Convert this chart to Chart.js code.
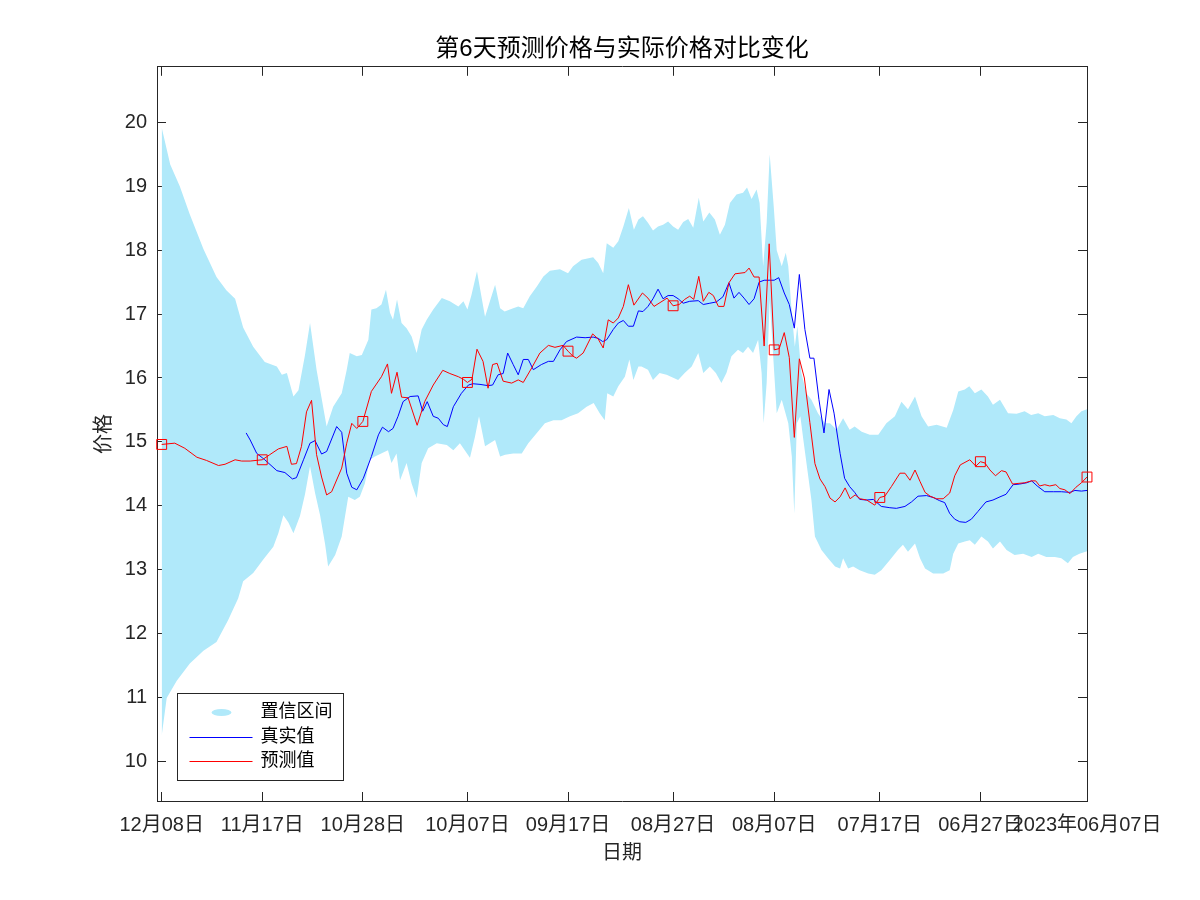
<!DOCTYPE html>
<html>
<head>
<meta charset="utf-8">
<script src="https://cdn.jsdelivr.net/npm/chart.js@4.4.0/dist/chart.umd.min.js"></script>
<style>
  html, body { margin: 0; padding: 0; background: #ffffff; }
</style>
</head>
<body>
<canvas id="priceChart" width="1200" height="900"></canvas>
<script>
// 横轴刻度（左 12月08日 → 右 2023年06月07日，按样本序号）
const xTickLabels = ['12月08日', '11月17日', '10月28日', '10月07日', '09月17日', '08月27日', '08月07日', '07月17日', '06月27日', '2023年06月07日'];
const xTickPos = [0, 20, 40, 60.8, 80.8, 101.7, 121.8, 142.8, 162.8, 184];
const yTicks = [10, 11, 12, 13, 14, 15, 16, 17, 18, 19, 20];

// 预测值
const predX = [
    0, 2.6, 4.6, 7.0, 8.9, 11.3, 12.6, 14.6, 15.9, 17.6,
    20, 21.5, 23.2, 24.9, 25.8, 26.8, 27.8, 28.8, 29.8, 30.8,
    31.8, 32.8, 33.8, 35.8, 36.8, 37.8, 38.8, 40, 41.7, 43.7,
    44.9, 45.7, 46.8, 47.7, 49.0, 50.8, 52.3, 54.0, 55.9, 57.3,
    59.0, 60.0, 60.8, 61.7, 62.7, 63.9, 64.9, 65.8, 66.7, 67.9,
    69.6, 70.9, 71.9, 73.6, 75.2, 76.9, 78.2, 79.8, 80.8, 81.8,
    82.5, 83.8, 85.7, 86.8, 87.8, 88.8, 89.8, 90.8, 91.8, 92.8,
    93.9, 95.6, 96.7, 97.9, 99.1, 100.5, 101.7, 102.9, 104.0, 105.0,
    105.8, 106.8, 107.7, 108.8, 109.7, 110.7, 111.8, 112.8, 114.0, 115.0,
    116.0, 116.8, 117.8, 118.8, 119.8, 120.8, 121.8, 122.8, 123.8, 124.8,
    125.8, 126.8, 127.8, 128.9, 129.9, 130.9, 131.9, 132.9, 133.9, 134.9,
    135.9, 136.9, 137.9, 138.9, 140.2, 141.8, 142.8, 143.8, 145.1, 146.8,
    147.8, 148.8, 149.8, 150.8, 151.8, 152.8, 154.1, 155.4, 156.7, 157.7,
    158.8, 160.7, 161.9, 162.8, 163.7, 164.7, 165.8, 167.0, 167.9, 169.2,
    170.3, 171.6, 173.0, 173.8, 174.6, 175.6, 176.6, 177.8, 178.6, 179.6,
    180.6, 181.8, 182.9, 184
];
const predY = [
    14.96, 14.98, 14.90, 14.76, 14.71, 14.63, 14.65, 14.72, 14.70, 14.70,
    14.72, 14.80, 14.89, 14.93, 14.65, 14.66, 14.93, 15.47, 15.65, 14.80,
    14.45, 14.17, 14.22, 14.59, 14.98, 15.29, 15.21, 15.32, 15.79, 16.02,
    16.22, 15.76, 16.09, 15.70, 15.69, 15.26, 15.63, 15.89, 16.12, 16.07,
    16.02, 15.98, 15.93, 15.98, 16.45, 16.26, 15.84, 16.21, 16.23, 15.95,
    15.92, 15.97, 15.93, 16.16, 16.39, 16.51, 16.48, 16.51, 16.42, 16.34,
    16.31, 16.39, 16.69, 16.61, 16.47, 16.91, 16.86, 16.94, 17.12, 17.46,
    17.14, 17.33, 17.25, 17.12, 17.18, 17.25, 17.13, 17.15, 17.23, 17.28,
    17.23, 17.59, 17.20, 17.34, 17.29, 17.12, 17.12, 17.49, 17.63, 17.64,
    17.65, 17.72, 17.58, 17.58, 16.50, 18.10, 16.44, 16.46, 16.71, 16.32,
    15.07, 16.30, 16.00, 15.30, 14.66, 14.42, 14.30, 14.12, 14.06, 14.14,
    14.28, 14.11, 14.17, 14.11, 14.09, 14.01, 14.13, 14.15, 14.30, 14.51,
    14.51, 14.40, 14.56, 14.38, 14.21, 14.15, 14.11, 14.11, 14.20, 14.47,
    14.64, 14.72, 14.62, 14.69, 14.67, 14.56, 14.47, 14.55, 14.53, 14.34,
    14.35, 14.36, 14.39, 14.39, 14.31, 14.33, 14.31, 14.33, 14.27, 14.25,
    14.19, 14.29, 14.36, 14.45
];
// 预测值上的方块标记
const markerX = [0, 20, 40, 60.8, 80.8, 101.7, 121.8, 142.8, 162.8, 184];

// 真实值
const realX = [
    16.8, 17.6, 18.9, 20.5, 22.9, 24.5, 26.0, 26.8, 28.2, 29.5,
    30.5, 31.8, 32.8, 34.8, 35.8, 36.8, 37.8, 38.8, 40.1, 41.7,
    43.1, 43.9, 45.1, 46.0, 47.0, 48.0, 49.4, 51.0, 51.9, 52.8,
    54.0, 55.0, 56.0, 56.8, 58.0, 59.6, 61.0, 61.9, 63.3, 64.9,
    65.8, 66.9, 67.9, 68.8, 69.9, 70.9, 71.9, 72.9, 73.9, 75.5,
    76.9, 77.9, 79.2, 80.5, 82.5, 84.2, 85.8, 86.8, 87.7, 88.5,
    89.8, 90.8, 91.8, 92.8, 93.8, 94.8, 95.7, 96.7, 97.7, 98.7,
    99.7, 100.7, 101.7, 102.7, 103.7, 105.0, 106.7, 107.7, 109.0, 110.3,
    111.6, 112.8, 113.8, 114.8, 115.8, 116.8, 117.8, 118.8, 119.8, 120.8,
    121.8, 122.7, 123.8, 124.8, 125.8, 126.8, 127.9, 128.9, 129.7, 130.7,
    131.7, 132.7, 133.7, 134.9, 135.8, 136.8, 137.8, 138.8, 140.2, 141.5,
    143.1, 144.8, 146.1, 147.8, 149.1, 150.4, 152.1, 153.4, 154.7, 155.7,
    156.7, 157.7, 158.7, 159.9, 161.0, 162.3, 163.9, 165.3, 166.7, 167.9,
    169.3, 170.6, 172.0, 173.0, 174.1, 175.6, 177.3, 178.9, 180.6, 181.6,
    182.9, 184
];
const realY = [
    15.14, 15.03, 14.82, 14.72, 14.55, 14.52, 14.42, 14.44, 14.72, 14.98,
    15.02, 14.81, 14.85, 15.24, 15.15, 14.51, 14.29, 14.25, 14.43, 14.77,
    15.11, 15.23, 15.16, 15.21, 15.40, 15.63, 15.71, 15.72, 15.48, 15.63,
    15.40, 15.37, 15.27, 15.24, 15.55, 15.76, 15.89, 15.91, 15.90, 15.88,
    15.89, 16.05, 16.07, 16.39, 16.21, 16.05, 16.29, 16.29, 16.13, 16.21,
    16.26, 16.26, 16.44, 16.57, 16.64, 16.63, 16.64, 16.62, 16.57, 16.60,
    16.76, 16.86, 16.90, 16.81, 16.81, 17.05, 17.04, 17.12, 17.24, 17.39,
    17.24, 17.29, 17.29, 17.24, 17.17, 17.20, 17.21, 17.15, 17.17, 17.19,
    17.27, 17.49, 17.25, 17.34, 17.25, 17.15, 17.24, 17.50, 17.53, 17.53,
    17.53, 17.57, 17.33, 17.15, 16.78, 17.62, 16.76, 16.31, 16.31, 15.66,
    15.14, 15.82, 15.45, 14.82, 14.43, 14.30, 14.21, 14.10, 14.09, 14.10,
    13.99, 13.97, 13.96, 13.99, 14.06, 14.15, 14.16, 14.13, 14.08, 14.05,
    13.88, 13.79, 13.75, 13.74, 13.79, 13.91, 14.06, 14.09, 14.14, 14.18,
    14.33, 14.34, 14.36, 14.39, 14.31, 14.22, 14.22, 14.22, 14.21, 14.24,
    14.23, 14.24
];

// 置信区间上界
const upperX = [
    0, 1.7, 3.6, 5.6, 8.3, 10.9, 12.9, 14.6, 16.2, 18.2,
    20.5, 22.9, 23.9, 24.9, 26.2, 27.2, 28.5, 29.5, 30.8, 32.8,
    34.1, 35.8, 36.8, 37.4, 38.8, 39.8, 41.1, 41.7, 42.7, 43.7,
    44.6, 45.4, 46.0, 46.8, 47.7, 48.7, 49.7, 50.7, 51.7, 52.7,
    54.0, 55.7, 57.3, 59.0, 60.0, 60.8, 61.6, 62.7, 63.3, 64.3,
    66.3, 67.3, 68.2, 69.9, 70.9, 71.9, 73.2, 74.6, 75.9, 77.2,
    79.2, 80.8, 81.8, 83.5, 85.8, 86.8, 87.8, 88.5, 89.8, 90.8,
    91.8, 92.9, 93.9, 94.8, 95.7, 96.7, 97.7, 98.7, 99.7, 100.7,
    101.7, 102.7, 103.7, 104.7, 105.7, 106.8, 107.7, 108.9, 110.0, 111.0,
    112.0, 113.0, 114.3, 115.6, 116.4, 117.3, 118.3, 118.9, 119.6, 120.3,
    120.9, 121.7, 122.3, 123.3, 124.1, 124.6, 125.3, 125.9, 126.4, 127.2,
    128.2, 129.2, 130.5, 131.9, 132.9, 134.2, 135.5, 136.8, 137.8, 139.2,
    140.8, 142.5, 144.1, 145.8, 147.1, 148.4, 149.8, 151.1, 152.4, 154.1,
    156.1, 157.4, 158.4, 159.7, 160.6, 161.7, 163.0, 164.3, 165.3, 166.7,
    168.3, 170.0, 171.6, 172.9, 174.3, 175.6, 177.3, 178.6, 179.9, 180.9,
    181.9, 182.9, 184
];
const upperY = [
    19.92, 19.34, 19.00, 18.56, 18.02, 17.58, 17.37, 17.24, 16.79, 16.49,
    16.25, 16.18, 16.05, 16.08, 15.71, 15.81, 16.36, 16.86, 16.13, 15.24,
    15.55, 15.76, 16.13, 16.39, 16.34, 16.36, 16.60, 17.07, 17.09, 17.15,
    17.38, 17.02, 16.91, 17.23, 16.86, 16.78, 16.65, 16.39, 16.76, 16.91,
    17.07, 17.25, 17.20, 17.12, 17.20, 17.07, 17.30, 17.67, 17.40, 16.96,
    17.46, 17.09, 17.04, 17.09, 17.12, 17.09, 17.28, 17.43, 17.59, 17.68,
    17.70, 17.64, 17.75, 17.85, 17.89, 17.80, 17.64, 18.11, 18.04, 18.14,
    18.37, 18.66, 18.32, 18.48, 18.53, 18.43, 18.31, 18.37, 18.40, 18.45,
    18.37, 18.32, 18.44, 18.49, 18.35, 18.82, 18.45, 18.59, 18.48, 18.24,
    18.40, 18.74, 18.87, 18.90, 18.98, 18.80, 18.95, 18.74, 17.75, 18.43,
    19.50, 18.69, 18.00, 17.75, 17.96, 17.75, 17.02, 16.49, 16.81, 16.08,
    15.76, 15.66, 15.45, 15.29, 15.29, 15.19, 15.37, 15.19, 15.24, 15.16,
    15.11, 15.11, 15.29, 15.40, 15.63, 15.51, 15.71, 15.40, 15.24, 15.27,
    15.22, 15.50, 15.79, 15.82, 15.87, 15.76, 15.82, 15.71, 15.58, 15.66,
    15.45, 15.44, 15.48, 15.42, 15.45, 15.40, 15.42, 15.37, 15.35, 15.29,
    15.40, 15.48, 15.51
];

// 置信区间下界
const lowerX = [
    0, 1.0, 3.0, 5.6, 8.3, 10.9, 13.2, 15.2, 16.2, 18.2,
    20.2, 22.2, 23.2, 24.2, 25.2, 26.2, 27.5, 28.5, 29.5, 30.5,
    31.5, 32.5, 33.1, 34.5, 35.8, 37.1, 38.4, 39.4, 40.4, 41.4,
    42.4, 45.0, 45.7, 46.7, 47.4, 48.7, 49.7, 50.7, 51.7, 53.0,
    54.7, 56.7, 58.0, 59.3, 61.3, 62.3, 63.1, 64.3, 66.3, 67.3,
    68.3, 69.9, 71.6, 72.9, 74.6, 76.2, 77.9, 79.5, 81.2, 82.8,
    84.5, 85.9, 87.1, 88.1, 88.6, 89.8, 90.8, 92.1, 93.0, 93.8,
    94.8, 95.4, 96.7, 97.7, 99.0, 100.4, 102.7, 104.0, 105.4, 106.7,
    107.7, 109.0, 110.2, 111.3, 112.3, 113.3, 114.6, 115.6, 116.6, 117.6,
    118.6, 119.3, 119.7, 120.3, 120.9, 121.6, 122.3, 123.3, 124.6, 125.3,
    125.8, 126.3, 127.0, 127.6, 129.2, 129.9, 131.2, 132.5, 133.9, 134.9,
    135.5, 136.5, 137.5, 138.8, 140.5, 141.8, 143.1, 144.8, 146.4, 147.4,
    148.4, 149.8, 150.8, 151.8, 153.4, 155.4, 156.7, 157.4, 158.4, 159.7,
    160.7, 161.7, 163.0, 164.3, 165.3, 166.7, 168.0, 169.6, 171.3, 173.0,
    174.3, 175.9, 177.6, 178.9, 180.2, 181.2, 182.5, 184
];
const lowerY = [
    10.40, 10.99, 11.26, 11.53, 11.73, 11.87, 12.21, 12.55, 12.82, 12.95,
    13.16, 13.36, 13.57, 13.85, 13.74, 13.57, 13.84, 14.18, 14.62, 14.20,
    13.85, 13.40, 13.05, 13.23, 13.52, 14.14, 14.09, 14.14, 14.35, 14.72,
    14.77, 14.87, 14.67, 14.82, 14.40, 14.67, 14.35, 14.12, 14.67, 14.90,
    14.98, 14.95, 14.87, 14.98, 14.75, 15.08, 15.40, 14.93, 15.03, 14.77,
    14.80, 14.82, 14.82, 14.98, 15.14, 15.29, 15.34, 15.34, 15.40, 15.45,
    15.55, 15.61, 15.45, 15.34, 15.76, 15.71, 15.87, 16.02, 16.29, 15.97,
    16.18, 16.18, 16.13, 15.97, 16.08, 16.05, 15.97, 16.08, 16.18, 16.39,
    16.08, 16.18, 16.08, 15.92, 16.08, 16.34, 16.44, 16.39, 16.49, 16.39,
    16.60, 16.08, 15.29, 15.92, 17.23, 16.34, 15.45, 15.66, 15.29, 14.77,
    13.88, 15.29, 15.40, 15.03, 14.09, 13.52, 13.31, 13.18, 13.05, 13.02,
    13.18, 13.02, 13.05, 12.99, 12.94, 12.92, 12.99, 13.15, 13.31, 13.39,
    13.28, 13.41, 13.18, 13.02, 12.94, 12.94, 12.99, 13.25, 13.41, 13.44,
    13.46, 13.39, 13.52, 13.44, 13.33, 13.44, 13.31, 13.23, 13.25, 13.20,
    13.25, 13.20, 13.20, 13.18, 13.10, 13.20, 13.25, 13.29
];

const axisColor = '#262626';
const bandColor = 'rgb(176, 233, 250)';
const realColor = '#0000ff';
const predColor = '#ff0000';
Chart.defaults.font.family = "'Liberation Sans', 'Noto Sans CJK SC', sans-serif";
Chart.defaults.color = axisColor;

function toPoints(xs, ys) {
    return xs.map((x, i) => ({ x: x, y: ys[i] }));
}

function isMarker(ctx) {
    return ctx.raw && markerX.some(m => Math.abs(m - ctx.raw.x) < 1e-6);
}

// 坐标框：四边都画内向刻度
function frameAxis(position, min, max, tickValues) {
    const horizontal = position === 'top' || position === 'bottom';
    return {
        type: 'linear',
        position: position,
        min: min,
        max: max,
        z: 1,
        afterBuildTicks: (axis) => { axis.ticks = tickValues.map(v => ({ value: v })); },
        afterFit: (axis) => { if (horizontal) { axis.height = 0; } else { axis.width = 0; } },
        ticks: { display: false },
        grid: { drawOnChartArea: false, tickLength: -9, color: axisColor, tickColor: axisColor, lineWidth: 1 },
        border: { display: true, color: axisColor, width: 1 }
    };
}

// 左下角图例
const boxLegend = {
    id: 'boxLegend',
    afterDraw(chart) {
        const ctx = chart.ctx;
        const area = chart.chartArea;
        const w = 166, h = 87;
        const left = Math.round(area.left + 20) + 0.5;
        const top = Math.round(area.bottom - 21 - h) + 0.5;
        ctx.save();
        ctx.fillStyle = '#ffffff';
        ctx.fillRect(left, top, w, h);
        ctx.strokeStyle = axisColor;
        ctx.lineWidth = 1;
        ctx.strokeRect(left, top, w, h);

        const rows = [top + 19, top + 44, top + 68];
        // 置信区间
        ctx.fillStyle = bandColor;
        ctx.beginPath();
        ctx.ellipse(left + 44, rows[0], 10, 3.5, 0, 0, Math.PI * 2);
        ctx.fill();
        // 真实值、预测值
        [realColor, predColor].forEach((color, i) => {
            ctx.strokeStyle = color;
            ctx.lineWidth = 1;
            ctx.beginPath();
            ctx.moveTo(left + 12, rows[i + 1]);
            ctx.lineTo(left + 75, rows[i + 1]);
            ctx.stroke();
        });

        const labels = chart.data.datasets.filter(ds => ds.inLegend).map(ds => ds.label);
        ctx.fillStyle = '#000000';
        ctx.font = "18px 'Liberation Sans', 'Noto Sans CJK SC', sans-serif";
        ctx.textBaseline = 'middle';
        ctx.textAlign = 'left';
        labels.forEach((text, i) => {
            ctx.fillText(text, left + 83, rows[i]);
        });
        ctx.restore();
    }
};

const ctx = document.getElementById('priceChart').getContext('2d');

const priceChart = new Chart(ctx, {
    type: 'line',
    data: {
        datasets: [{
            label: '置信区间',
            inLegend: true,
            data: toPoints(upperX, upperY),
            borderWidth: 0,
            pointRadius: 0,
            backgroundColor: bandColor,
            fill: false,
            order: 3
        }, {
            label: '置信区间下界',
            data: toPoints(lowerX, lowerY),
            borderWidth: 0,
            pointRadius: 0,
            backgroundColor: bandColor,
            fill: '-1',
            order: 3
        }, {
            label: '真实值',
            inLegend: true,
            data: toPoints(realX, realY),
            borderColor: realColor,
            borderWidth: 1,
            pointRadius: 0,
            fill: false,
            order: 2
        }, {
            label: '预测值',
            inLegend: true,
            data: toPoints(predX, predY),
            borderColor: predColor,
            borderWidth: 1,
            pointStyle: 'rect',
            pointRadius: (c) => isMarker(c) ? 7 : 0,
            pointBorderColor: predColor,
            pointBackgroundColor: 'rgba(0,0,0,0)',
            pointBorderWidth: 1,
            fill: false,
            clip: 10,
            order: 1
        }]
    },
    options: {
        responsive: false,
        animation: false,
        events: [],
        layout: { padding: { left: 0, right: 113, top: 0, bottom: 0 } },
        elements: { line: { tension: 0 } },
        plugins: {
            legend: { display: false },
            tooltip: { enabled: false },
            title: {
                display: true,
                fullSize: false,
                text: '第6天预测价格与实际价格对比变化',
                color: '#000000',
                font: { size: 24, weight: 'normal' },
                padding: { top: 35, bottom: 3 }
            }
        },
        scales: {
            x: {
                type: 'linear',
                position: 'bottom',
                min: -0.93,
                max: 184,
                z: 1,
                afterBuildTicks: (axis) => { axis.ticks = xTickPos.map(v => ({ value: v })); },
                afterFit: (axis) => { axis.height = 99; },
                ticks: {
                    autoSkip: false,
                    maxRotation: 0,
                    minRotation: 0,
                    padding: 21,
                    color: axisColor,
                    font: { size: 20 },
                    callback: (value, index) => xTickLabels[index]
                },
                grid: { drawOnChartArea: false, tickLength: -9, color: axisColor, tickColor: axisColor, lineWidth: 1 },
                border: { display: true, color: axisColor, width: 1 },
                title: {
                    display: true,
                    text: '日期',
                    color: axisColor,
                    font: { size: 20 },
                    padding: { top: 0, bottom: 35 }
                }
            },
            xTop: frameAxis('top', -0.93, 184, xTickPos),
            y: {
                type: 'linear',
                position: 'left',
                min: 9.38,
                max: 20.87,
                z: 1,
                afterBuildTicks: (axis) => { axis.ticks = yTicks.map(v => ({ value: v })); },
                afterFit: (axis) => { axis.width = 157; },
                ticks: {
                    padding: 19,
                    color: axisColor,
                    font: { size: 20 }
                },
                grid: { drawOnChartArea: false, tickLength: -9, color: axisColor, tickColor: axisColor, lineWidth: 1 },
                border: { display: true, color: axisColor, width: 1 },
                title: {
                    display: true,
                    text: '价格',
                    color: axisColor,
                    font: { size: 20 },
                    padding: { top: 92, bottom: 0 }
                }
            },
            yRight: frameAxis('right', 9.38, 20.87, yTicks)
        }
    },
    plugins: [boxLegend]
});
</script>
</body>
</html>
